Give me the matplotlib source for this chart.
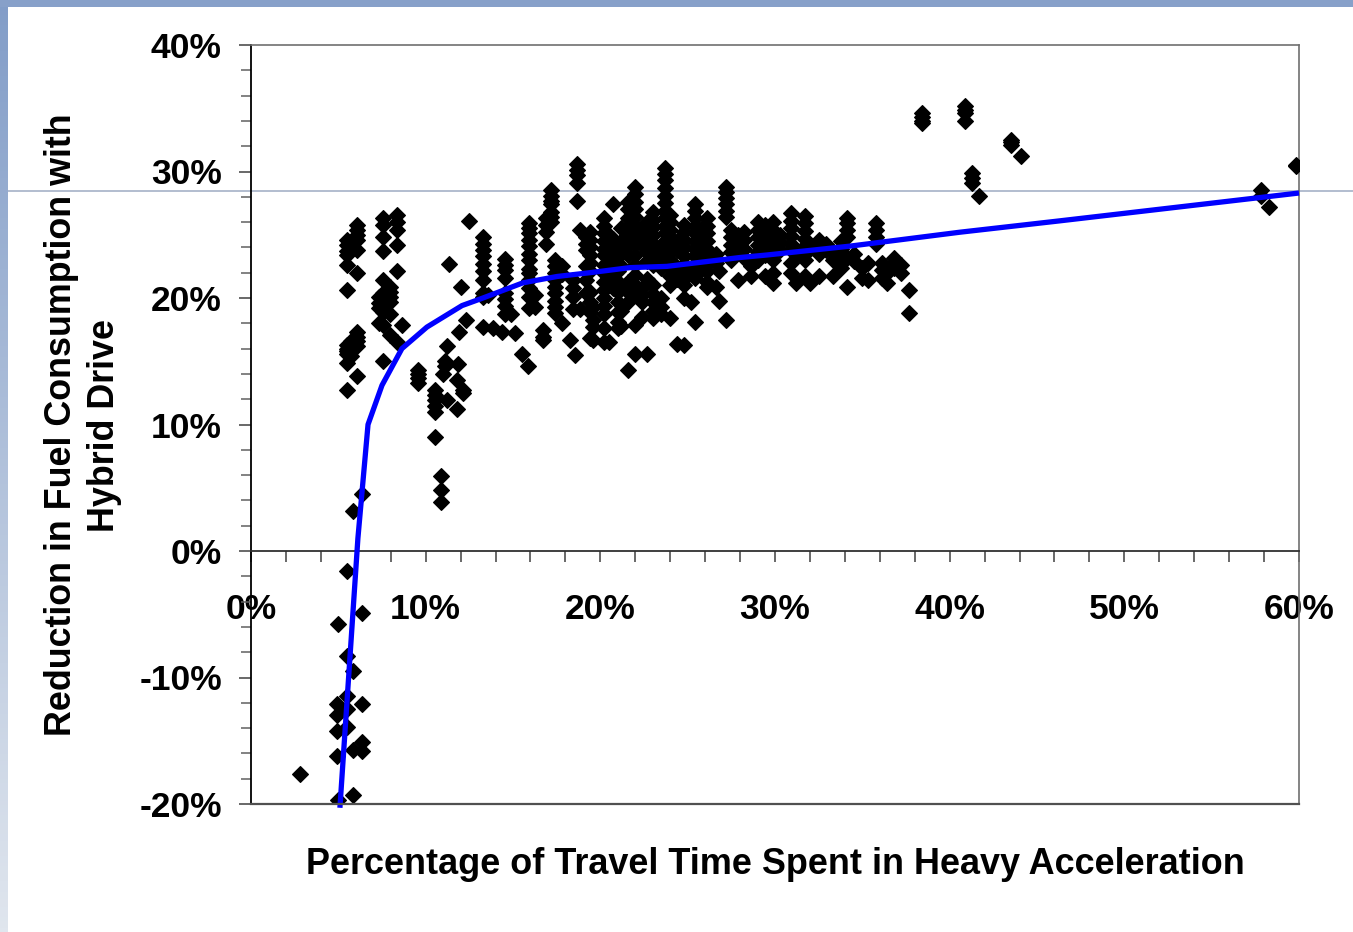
import numpy as np
import matplotlib
matplotlib.use("Agg")
import matplotlib.pyplot as plt
from matplotlib.ticker import MultipleLocator, FuncFormatter
from matplotlib.lines import Line2D

plt.rcParams['font.family'] = ['Liberation Sans', 'DejaVu Sans']
plt.rcParams['font.weight'] = 'bold'

# fitted curve (x %, y %)
curve_x = [5.09, 6.12, 6.70, 7.50, 8.64, 10.07, 12.08, 13.28, 15.57, 17.52, 19.40,
           21.69, 23.81, 27.99, 29.54, 34.29, 40.58, 46.31, 60.0]
curve_y = [-20.3, 1.0, 10.0, 13.1, 16.0, 17.7, 19.4, 20.0, 21.2, 21.7, 22.0,
           22.4, 22.5, 23.2, 23.4, 24.1, 25.2, 26.1, 28.3]

# scatter columns: (x %, [y % ...])
low_cluster = [
    (2.8, [-17.6]),
    (4.94, [-12.1, -13.0, -14.2, -16.2]),
    (5.0, [-5.8, -19.7]),
    (5.48, [-1.6, -8.3, -11.5, -12.5, -13.9]),
    (5.86, [-9.5, -15.7, -19.3, 3.2]),
    (6.37, [-4.9, -12.1, -15.1, -15.8, 4.5]),
]

early_cluster = [
    (5.48, [24.6, 24.2, 23.7, 23.4, 22.6, 20.6, 16.3, 16.0, 15.8, 15.6, 14.9, 12.7]),
    (5.75, [16.6, 16.2, 15.9, 15.4]),
    (6.05, [25.8, 25.4, 25.0, 24.6, 23.8, 22.0, 17.3, 16.9, 16.6, 16.2, 13.8]),
    (7.3, [20.1, 19.6, 19.2, 18.0]),
    (7.57, [26.3, 25.8, 24.8, 23.7, 21.4, 20.4, 19.8, 19.4, 18.9, 17.9, 15.0]),
    (7.96, [20.9, 20.5, 20.1, 19.7, 18.7, 17.1]),
    (8.34, [26.6, 26.0, 25.4, 24.2, 22.1, 16.5]),
    (8.62, [17.9]),
]

mid_cluster = [
    (9.58, [14.3, 14.0, 13.7, 13.3]),
    (10.53, [12.7, 12.3, 11.9, 11.5, 11.0, 9.0]),
    (10.86, [5.9, 4.8, 3.9]),
    (11.0, [14.0]),
    (11.1, [14.6, 15.0]),
    (11.2, [16.2, 11.9]),
    (11.33, [22.7]),
    (11.77, [13.5, 11.2]),
    (11.87, [14.8]),
    (11.92, [17.3]),
    (12.0, [20.9]),
    (12.15, [12.7, 12.5]),
    (12.3, [18.3]),
    (12.5, [26.1]),
    (13.3, [24.8, 24.3, 23.8, 23.3, 22.7, 22.1, 21.4, 20.4, 20.1, 17.7]),
    (13.58, [20.2]),
    (13.87, [17.6]),
    (14.35, [17.3]),
    (14.54, [23.1, 22.6, 22.2, 21.6, 20.4, 19.9, 19.4, 18.7]),
    (14.9, [18.7]),
    (15.1, [17.2]),
    (15.5, [15.6]),
    (15.87, [14.6]),
    (15.9, [25.9, 25.5, 25.1, 24.6, 24.1, 23.5, 23.0, 22.3, 22.0, 21.4, 20.8, 20.1, 19.2]),
    (16.26, [20.2, 19.3]),
    (16.7, [17.5, 16.9, 16.7]),
    (16.9, [26.3, 25.8, 25.2, 24.3]),
    (17.2, [28.5, 28.1, 27.7, 27.4, 26.8, 26.4, 26.0]),
    (17.4, [23.0, 22.5, 22.0, 21.4, 20.9, 20.4, 19.8, 19.3, 18.8]),
    (17.8, [18.0, 22.5, 21.9]),
    (18.26, [16.7]),
    (18.45, [21.4, 20.8, 20.1, 19.1]),
    (18.55, [15.5]),
    (18.64, [30.6, 30.1, 29.7, 29.1, 27.7]),
    (18.83, [25.4, 19.1]),
]

dense_cluster = [
    (19.2, [24.8, 24.3, 23.8, 22.5, 21.4, 20.4]),
    (19.4, [25.2, 24.6, 24.0, 23.4, 22.8, 22.1, 20.5, 19.7, 18.9, 16.8]),
    (19.6, [19.3, 18.3, 17.7, 16.7]),
    (20.2, [26.3, 25.7, 25.1, 24.5, 23.9, 23.4, 22.6, 22.0, 21.3, 20.6, 20.0, 19.4, 18.7, 17.6, 16.5]),
    (20.5, [25.0, 24.0, 23.0, 22.0, 21.0, 16.5]),
    (20.7, [27.4, 24.7, 24.0, 23.2, 22.5, 21.7, 20.8]),
    (21.0, [22.1, 21.3, 20.5, 19.7, 18.9, 18.1, 17.6]),
    (21.2, [25.5, 24.5, 23.5, 22.5, 21.0, 19.0, 17.8]),
    (21.6, [27.6, 27.0, 26.3, 25.6, 24.9, 24.2, 23.4, 21.3, 20.5, 19.7, 14.3]),
    (22.0, [28.8, 28.2, 27.6, 27.0, 26.4, 25.7, 25.0, 24.3, 23.4, 22.6, 21.8, 21.0, 20.2, 17.9, 15.6]),
    (22.4, [25.2, 24.7, 24.2, 20.8, 20.2, 19.7, 18.5]),
    (22.7, [26.0, 23.6, 22.9, 21.5, 15.6]),
    (23.0, [26.8, 26.2, 25.6, 25.0, 24.3, 23.7, 23.1, 22.6, 21.0, 20.3, 19.7, 19.0, 18.4]),
    (23.5, [20.0, 19.3, 18.7, 23.0, 22.4]),
    (23.7, [30.3, 29.8, 29.3, 28.7, 28.1, 27.5, 26.9, 26.3, 25.7, 25.1, 24.5, 24.0, 23.4]),
    (24.0, [26.6, 26.0, 25.4, 24.8, 24.2, 23.6, 23.0, 22.4, 21.7, 21.0, 18.4]),
    (24.4, [24.5, 23.8, 22.4, 21.5, 16.4]),
    (24.8, [25.8, 25.2, 24.6, 24.0, 23.3, 22.7, 22.1, 21.5, 21.0, 20.0, 16.3]),
    (25.2, [19.7, 22.0]),
    (25.4, [27.4, 26.9, 26.3, 25.7, 25.1, 24.5, 23.9, 23.3, 22.7, 22.1, 21.6, 18.1]),
    (25.8, [25.5, 24.7, 23.9, 23.1, 22.3]),
    (26.1, [26.3, 25.7, 25.1, 24.5, 23.9, 23.3, 22.7, 22.1, 21.3, 20.9]),
    (26.6, [23.5, 22.8, 20.9]),
    (26.8, [19.8, 22.1]),
    (27.2, [28.8, 28.4, 27.9, 27.4, 26.9, 26.4, 18.3]),
    (27.5, [25.4, 24.8, 24.2, 23.6, 23.0]),
    (27.9, [25.0, 24.3, 23.6, 21.4]),
    (28.2, [25.2, 24.6, 23.9, 23.2]),
]

late_cluster = [
    (28.6, [22.5, 21.7]),
    (29.0, [26.0, 25.4, 24.8, 24.2, 23.6, 23.0]),
    (29.4, [25.8, 25.2, 24.6, 24.0, 23.4, 21.7]),
    (29.9, [26.0, 25.4, 24.8, 24.2, 23.6, 23.0, 22.0, 21.2]),
    (30.3, [25.0, 24.4, 23.8]),
    (30.9, [26.7, 26.1, 25.5, 24.9, 24.3, 23.8, 22.8, 22.0]),
    (31.2, [23.5, 21.2]),
    (31.7, [26.5, 25.9, 25.3, 24.7, 24.1, 23.5, 23.0, 21.7]),
    (32.0, [21.2, 24.0]),
    (32.5, [24.6, 24.0, 23.5, 21.7]),
    (32.9, [23.8, 24.3]),
    (33.3, [23.6, 23.0, 21.7]),
    (33.8, [24.5, 23.9, 23.3, 22.4]),
    (34.1, [26.3, 25.9, 25.4, 24.8, 23.2, 20.9]),
    (34.5, [23.5, 22.9]),
    (35.0, [22.4, 21.6]),
    (35.3, [21.4, 22.8]),
    (35.8, [25.9, 25.4, 24.8, 24.3]),
    (36.1, [22.8, 22.2, 21.6]),
    (36.4, [21.2, 22.0]),
    (36.8, [23.2, 22.8, 22.4]),
    (37.2, [22.6, 22.0]),
    (37.7, [20.6, 18.8]),
]

outliers = [
    (38.4, [34.6, 34.3, 34.0, 33.8]),
    (40.9, [35.2, 34.9, 34.6, 34.0]),
    (41.3, [29.9, 29.5, 29.1]),
    (41.7, [28.1]),
    (43.5, [32.5, 32.3, 32.1]),
    (44.1, [31.2]),
    (57.85, [28.5, 28.1]),
    (58.3, [27.2]),
    (59.8, [30.4, 30.5]),
]

W, H = 1353, 932
fig = plt.figure(figsize=(W / 100, H / 100), dpi=100)
fig.patch.set_facecolor('white')

# slide decoration: blue bars on top / left and a thin guide line
grad = np.linspace(0, 1, 256).reshape(-1, 1)
cmap = matplotlib.colors.LinearSegmentedColormap.from_list('side', ['#829dc8', '#e0e6ee'])
side = fig.add_axes([0, 0, 8 / W, 1])
side.imshow(grad, aspect='auto', cmap=cmap, extent=[0, 1, 0, 1])
side.axis('off')
top = fig.add_axes([0, 1 - 7 / H, 1, 7 / H])
top.set_facecolor('#87a0c9')
top.set_xticks([])
top.set_yticks([])
for s in top.spines.values():
    s.set_visible(False)
fig.add_artist(Line2D([8 / W, 1], [1 - 191 / H, 1 - 191 / H], color='#a5b1c7',
                      lw=1.2, zorder=-1))

ax = fig.add_axes([251 / W, 1 - 804 / H, (1299 - 251) / W, (804 - 45) / H])
ax.set_facecolor('none')
ax.set_xlim(0, 60)
ax.set_ylim(-20, 40)

for group in [low_cluster, early_cluster, mid_cluster, dense_cluster, late_cluster, outliers]:
    xs = [x for x, ys in group for _ in ys]
    ys = [y for _, yy in group for y in yy]
    ax.plot(xs, ys, linestyle='none', marker='D', markersize=8.2,
            color='black', markeredgecolor='black', markeredgewidth=0.8, zorder=3)

ax.plot(curve_x, curve_y, color='#0000ff', lw=3.8, zorder=4, clip_on=False,
        solid_capstyle='butt')

# frame
for name in ['top', 'right']:
    ax.spines[name].set_color('#707070')
    ax.spines[name].set_linewidth(1.2)
ax.spines['left'].set_color('black')
ax.spines['left'].set_linewidth(1.3)
ax.spines['bottom'].set_position(('data', 0))
ax.spines['bottom'].set_color('#303030')
ax.spines['bottom'].set_linewidth(1.3)
ax.axhline(-20, color='#505050', lw=1.6, clip_on=False, zorder=5)

pct = FuncFormatter(lambda v, p: f'{v:.0f}%')
ax.xaxis.set_major_locator(MultipleLocator(10))
ax.xaxis.set_minor_locator(MultipleLocator(2))
ax.yaxis.set_major_locator(MultipleLocator(10))
ax.yaxis.set_minor_locator(MultipleLocator(2))
ax.xaxis.set_major_formatter(pct)
ax.yaxis.set_major_formatter(pct)

ax.tick_params(axis='x', which='both', direction='out', length=8, width=1.1,
               color='#404040', labelsize=25.5, pad=22)
ax.tick_params(axis='y', which='major', direction='out', length=9, width=1.1,
               color='#404040', labelsize=25.5, pad=12)
ax.tick_params(axis='y', which='minor', direction='out', length=7, width=1.1,
               color='#606060')
for lab in ax.get_xticklabels() + ax.get_yticklabels():
    lab.set_fontweight('bold')

fig.text(775 / W, 1 - 864 / H, 'Percentage of Travel Time Spent in Heavy Acceleration',
         ha='center', va='center', fontsize=25.9, fontweight='bold')
fig.text(83 / W, 1 - 425 / H, 'Reduction in Fuel Consumption with\nHybrid Drive',
         ha='center', va='center', rotation=90, multialignment='center',
         fontsize=25.8, fontweight='bold', linespacing=1.33)

fig.savefig('out.png', dpi=100)
